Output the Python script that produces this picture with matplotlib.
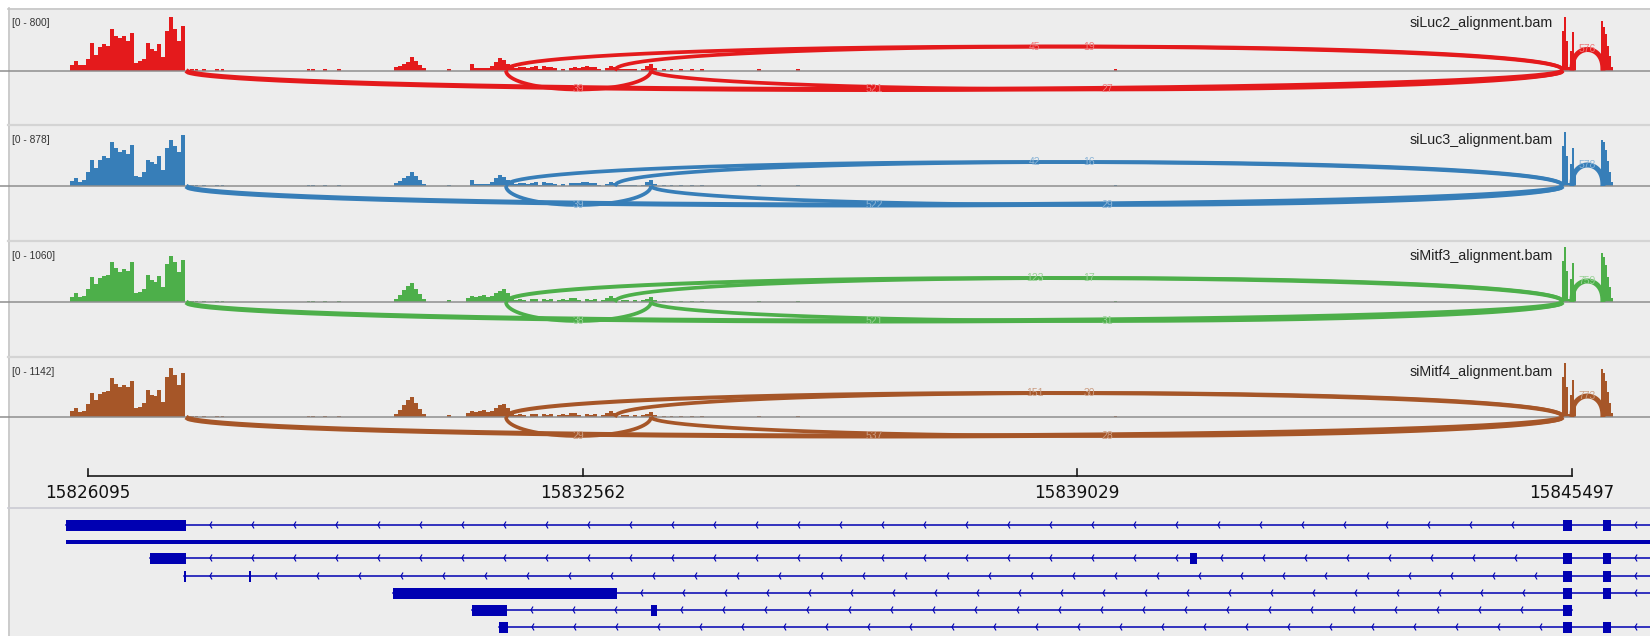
import numpy as np
import matplotlib
matplotlib.use('Agg')
import matplotlib.pyplot as plt
from matplotlib.patches import Rectangle
from matplotlib.colors import to_rgb

# ---------------- data ----------------
samples = ['siLuc2_alignment.bam', 'siLuc3_alignment.bam',
           'siMitf3_alignment.bam', 'siMitf4_alignment.bam']
data_max = [800, 878, 1060, 1142]
colors = ['#E41A1C', '#377EB8', '#4DAF4A', '#A65628']

ruler_ticks = [15826095, 15832562, 15839029, 15845497]

# coverage bins (genomic start, bin width in bp)
r1_start, r1_step = 15825860, 52
r2_start, r2_step = 15830096, 52
r3_start, r3_step = 15831037, 52
r4_start, r4_step = 15845366, 26
r5_start, r5_step = 15845876, 26

cov_r1 = [
    [87, 145, 73, 73, 174, 406, 232, 348, 392, 363, 609, 508, 479, 508, 435, 551, 116, 131, 174, 406, 319, 290, 392, 203, 580, 783, 609, 435, 653],
    [80, 128, 64, 96, 224, 416, 288, 416, 480, 448, 704, 608, 544, 576, 512, 656, 160, 144, 224, 416, 384, 352, 480, 256, 608, 736, 640, 544, 816],
    [97, 174, 97, 116, 251, 483, 347, 463, 502, 521, 772, 656, 579, 637, 598, 772, 174, 193, 251, 521, 425, 386, 502, 290, 733, 888, 772, 579, 811],
    [125, 187, 104, 125, 270, 499, 354, 478, 520, 541, 811, 686, 624, 666, 624, 749, 187, 208, 291, 562, 458, 437, 562, 312, 832, 1019, 874, 666, 915],
]
cov_r2 = [
    [45, 70, 100, 130, 200, 145, 85, 30],
    [48, 80, 128, 160, 225, 160, 96, 32],
    [58, 135, 230, 310, 365, 250, 155, 58],
    [62, 145, 250, 355, 415, 290, 165, 62],
]
cov_r3 = [
    [0, 100, 30, 30, 30, 30, 60, 120, 175, 150, 100, 60, 30, 50, 45, 30, 55, 60, 20, 60, 45, 55, 30, 0, 25, 0, 40, 50, 40, 55, 60, 50, 55, 20, 0, 30, 70, 50, 15, 15, 15, 15, 15, 0, 15, 60, 100, 40],
    [0, 96, 32, 32, 32, 32, 64, 128, 176, 144, 96, 64, 32, 48, 48, 32, 48, 64, 16, 64, 48, 48, 32, 0, 32, 0, 48, 48, 48, 64, 64, 48, 48, 16, 0, 32, 64, 48, 16, 16, 16, 16, 16, 0, 16, 64, 96, 32],
    [77, 116, 97, 116, 135, 97, 116, 174, 212, 251, 174, 58, 39, 58, 39, 0, 58, 58, 0, 58, 39, 58, 0, 39, 58, 39, 77, 77, 39, 0, 58, 39, 58, 0, 39, 77, 116, 77, 0, 39, 39, 0, 39, 0, 39, 58, 97, 39],
    [83, 125, 104, 125, 146, 104, 125, 187, 250, 270, 187, 62, 42, 62, 42, 0, 62, 62, 0, 62, 42, 62, 0, 42, 62, 42, 83, 83, 42, 0, 62, 42, 62, 0, 42, 83, 125, 83, 0, 42, 42, 0, 42, 0, 42, 62, 104, 42],
]
cov_r4 = [
    [580, 783, 435, 44, 290, 566, 174],
    [640, 864, 480, 48, 352, 608, 192],
    [791, 1062, 598, 58, 444, 753, 232],
    [832, 1123, 624, 62, 458, 770, 250],
]
cov_r5 = [
    [725, 638, 537, 363, 218, 58],
    [736, 704, 576, 400, 224, 64],
    [946, 869, 714, 483, 290, 77],
    [998, 915, 749, 520, 291, 83],
]
# sparse low-coverage spots
dot_pos = [15827455, 15827520, 15827612, 15827782, 15827860, 15828984, 15829037,
           15829194, 15829377, 15830815, 15833626, 15833730, 15833848, 15833992,
           15834123, 15834868, 15835378, 15839535]
dot_cov = [
    [20, 15, 20, 20, 20, 15, 15, 15, 15, 20, 15, 15, 15, 15, 15, 15, 15, 15],
    [20, 15, 20, 15, 15, 15, 15, 15, 15, 20, 20, 15, 15, 15, 15, 15, 15, 20],
    [25, 20, 20, 25, 20, 20, 20, 20, 20, 40, 20, 20, 20, 20, 20, 20, 20, 20],
    [25, 20, 20, 25, 20, 20, 20, 20, 20, 40, 25, 20, 20, 20, 20, 20, 20, 20],
]

# splice junctions
junc_start = [15827376, 15831560, 15831560, 15832985, 15833456, 15845497]
junc_end = [15845379, 15845379, 15833456, 15845379, 15845379, 15845902]
junc_above = [False, True, False, True, False, True]
junc_depth = [
    [521, 45, 39, 19, 27, 576],
    [522, 42, 39, 16, 29, 578],
    [521, 123, 38, 17, 31, 759],
    [537, 151, 29, 30, 28, 773],
]

# transcripts (exons as start/end), whether the model continues past the view
tx_exons = [
    [(15825807, 15827376), (15845379, 15845497), (15845902, 15846007)],
    [(15825807, 15846700)],
    [(15826906, 15827376), (15840503, 15840594), (15845379, 15845497), (15845902, 15846007)],
    [(15827350, 15827376), (15828200, 15828226), (15845379, 15845497), (15845902, 15846007)],
    [(15830083, 15833011), (15845379, 15845497), (15845902, 15846007)],
    [(15831115, 15831573), (15833456, 15833534), (15845379, 15845497)],
    [(15831468, 15831586), (15845379, 15845497), (15845902, 15846007)],
]
tx_continues = [True, False, True, True, True, False, True]
tx_thin = [False, True, False, False, False, False, False]

# ---------------- layout ----------------
W, H = 1650, 636
G0, G1 = 15824945, 15846517
BP_PER_PX = (G1 - G0) / W
panel_top = [9, 126, 242, 358]
panel_bot = [125, 241, 357, 474]
baseline = [70.5, 186, 302, 417]
COV_PX = 55.0
row_y = [525, 542, 558, 576, 593, 610, 627]
GENE = '#0000B2'
BG = '#EDEDED'

fig = plt.figure(figsize=(W / 100, H / 100), dpi=100, facecolor='white')

pax = fig.add_axes([0, 0, 1, 1])
pax.set_xlim(0, W)
pax.set_ylim(H, 0)
pax.axis('off')
pax.add_patch(Rectangle((8, 8), W - 8, H - 8, facecolor=BG, edgecolor='none'))
pax.plot([8, W], [8.5, 8.5], color='#C6C6C6', lw=1.2)
pax.plot([8.5, 8.5], [8, H], color='#C6C6C6', lw=1.2)
for y in [125, 241, 357]:
    pax.plot([8, W], [y, y], color='#D4D4D4', lw=1.6)
pax.plot([8, W], [508, 508], color='#CBCBD3', lw=1.2)


def lighten(c, f):
    r, g, b = to_rgb(c)
    return (r + (1 - r) * f, g + (1 - g) * f, b + (1 - b) * f)


for k in range(4):
    T, B, b0 = panel_top[k], panel_bot[k], baseline[k]
    m = data_max[k]
    upx = m / COV_PX
    ax = fig.add_axes([0, 1 - B / H, 1, (B - T) / H])
    ax.set_xlim(G0, G1)
    ax.set_ylim(-(B - b0) * upx, (b0 - T) * upx)
    ax.axis('off')
    ax.patch.set_alpha(0)
    c = colors[k]
    for start, step, vals in [(r1_start, r1_step, cov_r1[k]), (r2_start, r2_step, cov_r2[k]),
                              (r3_start, r3_step, cov_r3[k]), (r4_start, r4_step, cov_r4[k]),
                              (r5_start, r5_step, cov_r5[k])]:
        edges = start + step * np.arange(len(vals) + 1)
        ax.stairs(vals, edges, fill=True, color=c, lw=0, zorder=2)
    ax.bar(dot_pos, dot_cov[k], width=40, color=c, lw=0, zorder=2)
    ax.axhline(0, color='#8E8E8E', lw=1.1, zorder=3)
    for j in range(len(junc_start)):
        g0, g1 = junc_start[j], junc_end[j]
        d = junc_depth[k][j]
        span_px = (g1 - g0) / BP_PER_PX
        h_px = 24 if junc_above[j] else 19
        expo = 0.45 if junc_above[j] else 0.5
        if span_px < 60:
            h_px = 21
            expo = 0.4
        sgn = 1 if junc_above[j] else -1
        x = np.linspace(g0, g1, 600)
        u = (x - (g0 + g1) / 2) / ((g1 - g0) / 2)
        y = sgn * h_px * upx * np.clip(1 - u ** 2, 0, None) ** expo
        lw_px = 3.6 + 1.4 * min(d, 500) / 500
        ax.plot(x, y, color=c, lw=lw_px * 0.72, solid_capstyle='butt', zorder=4)
        ax.text((g0 + g1) / 2, sgn * h_px * upx, str(d), ha='center', va='center',
                fontsize=7.5, color=lighten(c, 0.42), family='Liberation Sans', zorder=5)
    pax.text(12, T + 14, '[0 - %d]' % m, ha='left', va='center', fontsize=7.3,
             color='#333333', family='Liberation Sans')
    pax.text(1553, T + 14, samples[k], ha='right', va='center', fontsize=10.3,
             color='#222222', family='Liberation Sans')

# ruler and gene models
gax = fig.add_axes([0, 0, 1, 1])
gax.set_xlim(G0, G1)
gax.set_ylim(H, 0)
gax.axis('off')
gax.patch.set_alpha(0)
gax.plot([ruler_ticks[0], ruler_ticks[-1]], [476, 476], color='#1A1A1A', lw=1.2)
for t in ruler_ticks:
    gax.plot([t, t], [468.5, 476], color='#1A1A1A', lw=1.2)
    gax.text(t, 493, str(t), ha='center', va='center', fontsize=12.2,
             color='#111111', family='DejaVu Sans')

arrow_step = 42 * BP_PER_PX
for i, exons in enumerate(tx_exons):
    y = row_y[i]
    if tx_thin[i]:
        s, e = exons[0]
        gax.add_patch(Rectangle((s, y - 2.2), e - s, 4.4, facecolor=GENE, edgecolor='none'))
        continue
    line_end = G1 + 500 if tx_continues[i] else exons[-1][1]
    gax.plot([exons[0][0], line_end], [y, y], color=GENE, lw=1.1, zorder=2)
    for s, e in exons:
        gax.add_patch(Rectangle((s, y - 5.5), e - s, 11, facecolor=GENE, edgecolor='none', zorder=3))
    bounds = [e for _, e in exons]
    nexts = [s for s, _ in exons[1:]] + ([G1 + 500] if tx_continues[i] else [exons[-1][1]])
    for a, bnd in zip(bounds, nexts):
        p = a + 24 * BP_PER_PX
        while p < bnd - 12 * BP_PER_PX:
            gax.plot([p + 1.8 * BP_PER_PX, p, p + 1.8 * BP_PER_PX], [y - 3, y, y + 3],
                     color=GENE, lw=0.8, zorder=3)
            p += arrow_step

fig.savefig('out.png', dpi=100, facecolor='white')
